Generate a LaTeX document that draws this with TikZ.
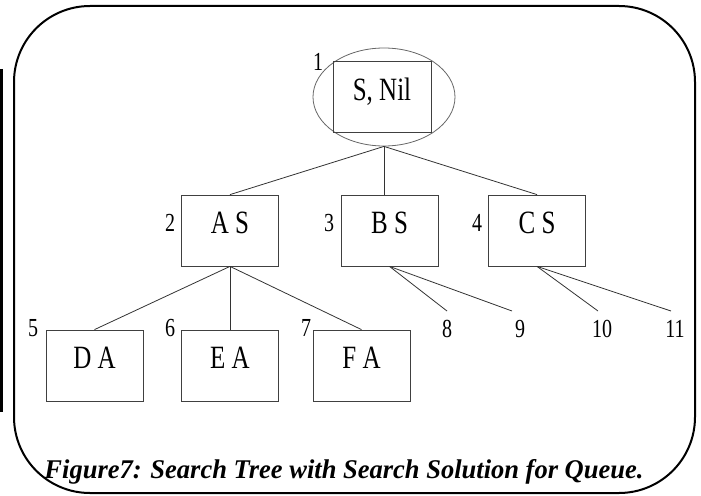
\documentclass[tikz,border=0pt]{standalone}
\usepackage{graphicx}
\usepackage{fontspec}
\setmainfont{Liberation Serif}[BoldFont={Liberation Serif Bold}, ItalicFont={Liberation Serif Italic}, BoldItalicFont={Liberation Serif Bold Italic}]
\usetikzlibrary{shapes.geometric}
\newcommand{\tall}[1]{\scalebox{1}[1.3]{#1}}

\tikzset{
  state/.style={draw=black!75, line width=0.8pt, minimum width=97pt, minimum height=71pt,
    inner sep=0pt, font=\fontsize{25}{25}\selectfont, text height=21pt, text depth=15pt},
  num/.style={font=\fontsize{20}{20}\selectfont, inner sep=0pt},
  branch/.style={black!80, line width=0.8pt},
}

\begin{document}
\begin{tikzpicture}[x=1pt,y=-1pt]
	\useasboundingbox (0,0) rectangle (701,495);
	
	% frame
	\draw[line width=2pt, rounded corners=76pt] (14,6) rectangle (695,493);
	\draw[line width=3pt] (1.5,69) -- (1.5,412);
	
	% root
	\node[ellipse, draw=black!60, line width=0.8pt, minimum width=142pt, minimum height=98pt] (root) at (384,97) {};
	\node[state, minimum width=98pt, font=\fontsize{25}{25}\selectfont, text height=22pt, text depth=15pt] (sn) at (382,96.5) {\tall{S, Nil}};
	
	% second level
	\node[state] (as) at (230,230.5) {\tall{A S}};
	\node[state] (bs) at (389.5,230.5) {\tall{B S}};
	\node[state] (cs) at (537,230.5) {\tall{C S}};
	
	% third level
	\node[state] (da) at (94.5,365.5) {\tall{D A}};
	\node[state] (ea) at (230,365.5) {\tall{E A}};
	\node[state] (fa) at (361.5,365.5) {\tall{F A}};
	
	% order numbers
	\node[num] (n1) at (318,62) {\tall{1}};
	\node[num] (n2) at (170,223) {\tall{2}};
	\node[num] (n3) at (329,223) {\tall{3}};
	\node[num] (n4) at (477,223) {\tall{4}};
	\node[num] (n5) at (33,328) {\tall{5}};
	\node[num] (n6) at (170,328) {\tall{6}};
	\node[num] (n7) at (306,328) {\tall{7}};
	\node[num] (n8) at (447,329) {\tall{8}};
	\node[num] (n9) at (520,329) {\tall{9}};
	\node[num] (n10) at (602,329) {\tall{10}};
	\node[num] (n11) at (675,329) {\tall{11}};
	
	\coordinate (e8) at (447,311);
	\coordinate (e9) at (512,311);
	\coordinate (e10) at (598,311);
	\coordinate (e11) at (671,311);
	
	\draw[branch] (root.south) -- (as.north);
	\draw[branch] (root.south) -- (bs.north -| root.south);
	\draw[branch] (root.south) -- (cs.north);
	\foreach \c in {da,ea,fa}
		\draw[branch] (as.south) -- (\c.north);
	\foreach \c in {e8,e9}
		\draw[branch] (bs.south) -- (\c);
	\foreach \c in {e10,e11}
		\draw[branch] (cs.south) -- (\c);
	
	% caption
	\node[font=\fontsize{26.5}{26.5}\selectfont\bfseries\itshape, anchor=base, inner sep=0pt] (cap) at (344,478)
		{\scalebox{1}[1.02]{Figure7: Search Tree with Search Solution for Queue.}};
\end{tikzpicture}
\end{document}
